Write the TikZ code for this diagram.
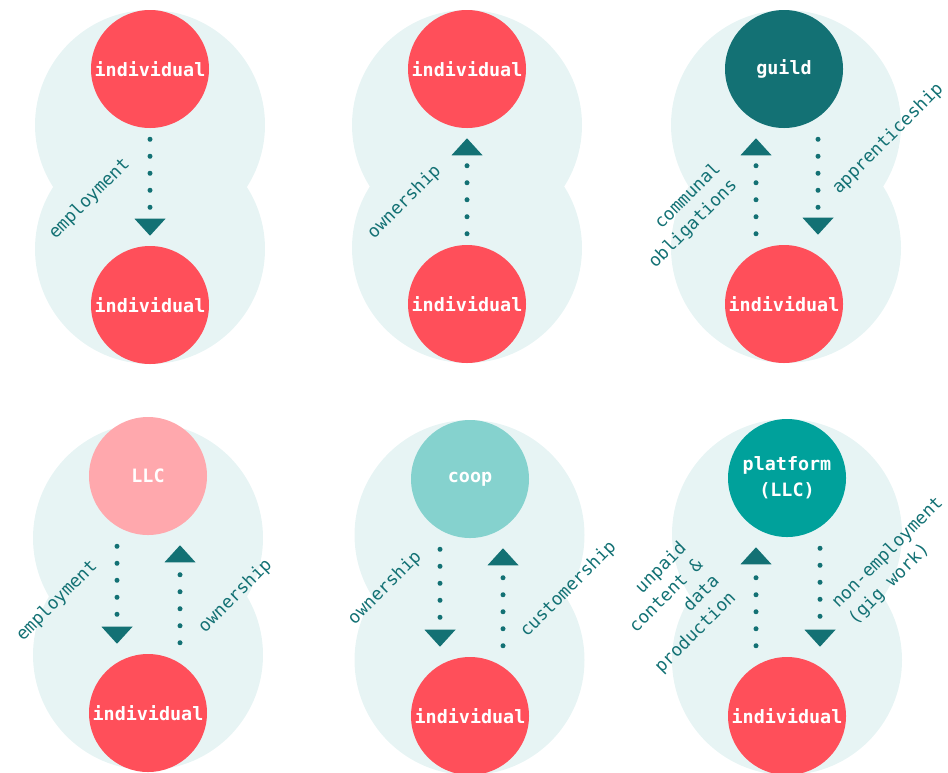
\documentclass[tikz,border=0pt]{standalone}
\usepackage{fontspec}
\setmonofont{DejaVu Sans Mono}
\usetikzlibrary{arrows.meta}

\definecolor{halo}{HTML}{E7F4F4}
\definecolor{persred}{HTML}{FF4F5A}
\definecolor{deepteal}{HTML}{137174}
\definecolor{llcpink}{HTML}{FFA8AD}
\definecolor{coopteal}{HTML}{85D2CE}
\definecolor{platteal}{HTML}{00A19B}

% two overlapping halo discs behind each pair
\newcommand{\halopair}[3]{\fill[halo] (#1,#2) circle[radius=86.25pt] (#1,#3) circle[radius=86.25pt];}

\begin{document}
\begin{tikzpicture}[x=0.75pt, y=-0.75pt,
    blob/.style={
      circle, minimum size=88.5pt, inner sep=0pt, align=center,
      text=white, font=\fontsize{13.8}{19.5}\selectfont\ttfamily\bfseries,
    },
    person/.style={blob, fill=persred},
    guildblob/.style={blob, fill=deepteal},
    llcblob/.style={blob, fill=llcpink},
    coopblob/.style={blob, fill=coopteal},
    platblob/.style={blob, fill=platteal},
    flow/.style={
      deepteal, line width=3.75pt, line cap=round,
      dash pattern=on 0pt off 12.75pt,
      shorten <=8.25pt, shorten >=7.5pt,
      -{Triangle[width=23.25pt, length=12.75pt, line width=0pt]},
    },
    rel/.style={
      text=deepteal, rotate=45,
      font=\fontsize{13.2}{17.5}\selectfont\ttfamily,
    },
]
\useasboundingbox (0,0) rectangle (948,772);

% halos
\halopair{150}{125}{249}
\halopair{467}{125}{248}
\halopair{786}{125}{248}
\halopair{148}{538}{655}
\halopair{469.5}{535}{660}
\halopair{787}{534}{660}

% top row
\node[person] (indA) at (150,69) {individual};
\node[person] (indB) at (150,305) {individual};
\draw[flow] (indA.south) -- (indB.north);
\node[rel] (empA) at (89.5,199) {employment};

\node[person] (ownTop) at (467,69) {individual};
\node[person] (ownBot) at (467,304) {individual};
\draw[flow] (ownBot.north) -- (ownTop.south);
\node[rel] (ownA) at (404.5,202) {ownership};

\node[guildblob] (guild) at (784,69) {guild};
\node[person] (apprentice) at (784,304) {individual};
\draw[flow] ([xshift=-21pt]apprentice.north) -- ([xshift=-21pt]guild.south);
\draw[flow] ([xshift=25.5pt]guild.south) -- ([xshift=25.5pt]apprentice.north);
\node[rel, align=right] (communal) at (685,216) {communal\\obligations};
\node[rel] (appr) at (888,139) {apprenticeship};

% bottom row
\node[llcblob] (llc) at (148,476) {LLC};
\node[person] (member) at (148,713) {individual};
\draw[flow] ([xshift=-23.25pt]llc.south) -- ([xshift=-23.25pt]member.north);
\draw[flow] ([xshift=24pt]member.north) -- ([xshift=24pt]llc.south);
\node[rel] (empB) at (57,601) {employment};
\node[rel] (ownB) at (235.5,596) {ownership};

\node[coopblob] (coop) at (470,479) {coop};
\node[person] (coopmember) at (470,716) {individual};
\draw[flow] ([xshift=-22.5pt]coop.south) -- ([xshift=-22.5pt]coopmember.north);
\draw[flow] ([xshift=24.75pt]coopmember.north) -- ([xshift=24.75pt]coop.south);
\node[rel] (ownC) at (385,588) {ownership};
\node[rel] (cust) at (568.5,589.5) {customership};

\node[platblob] (platform) at (787,478) {platform\\(LLC)};
\node[person] (worker) at (787,716) {individual};
\draw[flow] ([xshift=-23.25pt]worker.north) -- ([xshift=-23.25pt]platform.south);
\draw[flow] ([xshift=24.75pt]platform.south) -- ([xshift=24.75pt]worker.north);
\node[rel, align=right] (unpaid) at (671,608) {unpaid\\content \&\\data\\production};
\node[rel, align=left] (gig) at (896,561) {non-employment\\(gig work)};

\end{tikzpicture}
\end{document}
